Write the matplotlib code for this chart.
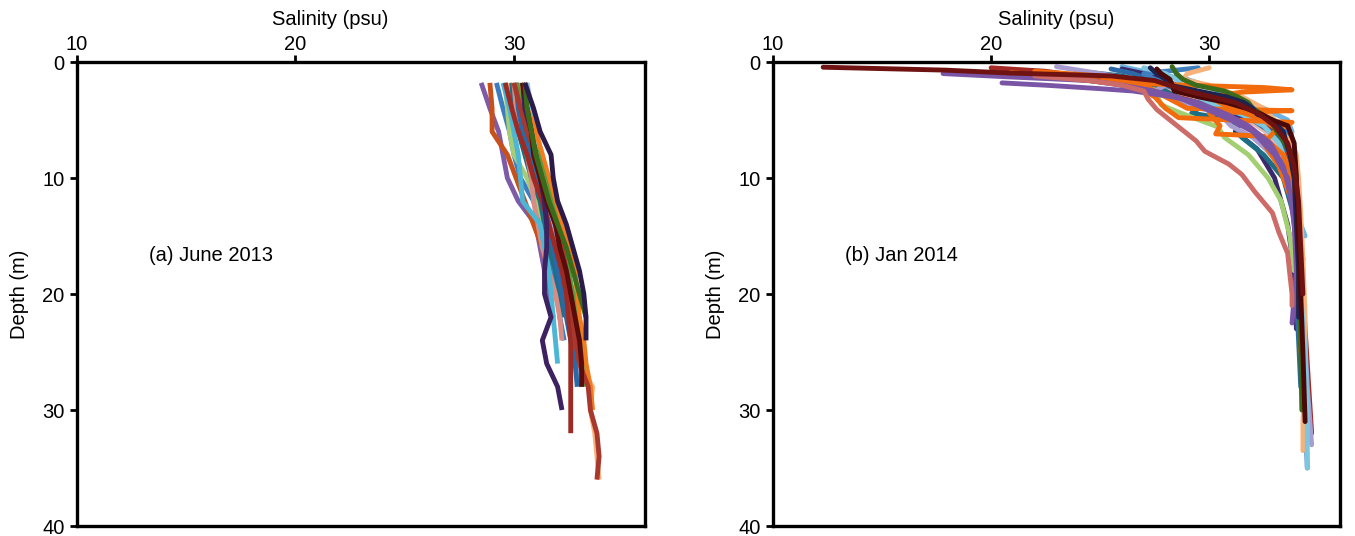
import matplotlib
matplotlib.use("Agg")
import matplotlib.pyplot as plt

plt.rcParams['font.family'] = ['Liberation Sans', 'DejaVu Sans']

# ---------------- June 2013 (panel a) ----------------
june_depth = [1.8, 4, 6, 8, 10, 12, 14, 16, 18, 20, 22, 24, 26, 28, 30, 32, 34, 36]
june_colors = ['#7d5ba6', '#c8501a', '#3b7dc0', '#a5cc76', '#f9b27d', '#1f6e80',
               '#8bb8e0', '#d98b84', '#4db6d5', '#a69bd0', '#f27b1d', '#2869a8',
               '#5a9a3a', '#9d2b23', '#a8382d', '#3d2160', '#5a0b0b', '#3a6b1b',
               '#2a1b4b']
june_sal = [
    [28.5, 28.9, 29.3, 29.5, 29.7, 30.2, 31.0, 31.2, 31.4, 31.6, 31.8],
    [28.9, 29.0, 29.0, 29.7, 30.1, 30.5, 30.9, 31.3, 31.6, 31.8],
    [29.2, 29.5, 29.8, 30.0, 30.3, 30.9, 31.2, 31.5, 31.7, 32.0, 32.1, 32.3],
    [29.6, 29.7, 29.8, 30.0, 30.6, 31.0, 31.4, 31.7, 32.0, 32.3, 32.6, 32.8, 32.9, 33.1],
    [29.8, 30.2, 30.5, 31.0, 31.3, 31.6, 31.9, 32.1, 32.3, 32.5, 32.6, 32.8, 33.0, 33.6, 33.5, 33.7, 33.8, 33.9],
    [29.9, 30.0, 30.2, 30.5, 30.8, 31.2, 31.4, 31.6, 31.9, 32.1, 32.3],
    [30.6, 30.8, 31.0, 31.3, 31.5, 31.7, 31.9, 32.1, 32.3, 32.4, 32.6, 32.7],
    [30.0, 30.1, 30.3, 30.6, 30.8, 30.9, 31.1, 31.3, 31.6, 31.9, 32.1, 32.2],
    [29.5, 29.8, 30.0, 30.2, 30.3, 30.4, 31.2, 31.4, 31.6, 31.7, 31.8, 31.9, 32.0],
    [30.2, 30.3, 30.5, 30.8, 31.1, 31.4, 31.7, 32.0, 32.3, 32.5, 32.7, 32.9, 33.0, 33.1],
    [30.3, 30.6, 31.0, 31.3, 31.6, 31.9, 32.2, 32.5, 32.8, 32.9, 33.0, 33.2, 33.3, 33.5, 33.6],
    [30.1, 30.2, 30.4, 30.8, 31.0, 31.3, 31.6, 31.8, 32.0, 32.2, 32.4, 32.6, 32.8, 32.9],
    [30.1, 30.4, 30.7, 31.1, 31.4, 31.7, 32.0, 32.3, 32.5, 32.7, 32.8, 33.0, 33.1, 33.2],
    [29.6, 29.9, 30.2, 30.6, 30.9, 31.3, 31.6, 31.9, 32.2, 32.4, 32.5, 32.6, 32.6, 32.6, 32.6, 32.6],
    [30.0, 30.3, 30.6, 31.0, 31.3, 31.6, 31.9, 32.2, 32.4, 32.6, 32.7, 32.8, 33.0, 33.4, 33.5, 33.8, 33.9, 33.8],
    [30.4, 30.5, 30.8, 31.0, 31.2, 31.4, 31.5, 31.5, 31.4, 31.4, 31.7, 31.3, 31.5, 32.0, 32.2],
    [30.4, 30.6, 30.8, 30.9, 31.2, 31.5, 31.9, 32.1, 32.4, 32.6, 32.8, 33.0, 33.1, 33.1],
    [30.5, 30.6, 30.8, 31.0, 31.3, 31.6, 32.0, 32.4, 32.7, 33.0, 33.3],
    [30.5, 30.9, 31.2, 31.7, 31.8, 32.0, 32.4, 32.7, 33.0, 33.2, 33.3, 33.3],
]

# ---------------- Jan 2014 (panel b) ----------------
jan_colors = ['#e8b4ae', '#a32a25', '#6fb4e0', '#3b2a6b', '#2b6aa6', '#1d6e85',
              '#a89cd0', '#3f7fc0', '#f7b27a', '#7cc6de', '#a3cf72', '#f26b0c',
              '#f26b0c', '#f26b0c', '#7a55a5', '#7a55a5', '#cd6b68', '#3a6b1d',
              '#1f2350', '#4b0808', '#6f1212']
jan_depth = [
    [0.9, 1.0, 1.3, 2.0, 3.0, 4.0, 5.0, 6.0, 7.5, 9, 12, 16, 20],
    [0.5, 0.8, 1.2, 2.0, 3.0, 4.0, 5.0, 6.0, 8, 10, 14, 20, 26, 32],
    [0.4, 1.0, 1.5, 2.0, 3.0, 4.0, 5.0, 6.0, 7.0, 8, 10, 13, 15],
    [0.6, 1.2, 2.0, 3.0, 4.0, 5.0, 6.0, 7.5, 10, 14, 18, 23],
    [0.6, 1.0, 2.0, 3.0, 4.0, 5.0, 6.0, 7.0, 9, 11, 14, 17, 20, 24, 28],
    [0.8, 1.2, 2.0, 3.0, 4.0, 4.4, 5.0, 6.5, 8, 10, 12, 14, 16],
    [0.4, 1.0, 1.5, 2.0, 2.5, 3.5, 4.5, 5.5, 6.5, 7.5, 9, 12, 16, 21, 28, 33],
    [0.5, 1.0, 1.5, 2.0, 3.0, 4.0, 5.0, 6.0, 8, 10, 12, 15, 20, 25, 30, 35],
    [0.5, 1.0, 1.5, 2.0, 3.0, 4.0, 5.0, 6, 7, 8, 10, 13, 17, 22, 27, 31, 33.5],
    [0.5, 1.0, 1.5, 2.5, 3.5, 4.5, 5.5, 7, 9, 12, 16, 20, 25, 30, 35],
    [1.4, 1.8, 2.4, 3.7, 4.4, 5.6, 6.5, 8, 10, 12, 15, 18],
    [0.8, 1.2, 2.0, 3.0, 4.0, 4.2, 4.4, 5.5, 6.2, 6.4, 7, 8, 10, 13, 17, 24],
    [1.0, 1.5, 2.0, 3.0, 4.0, 4.8, 5.0, 5.2, 6.0, 7, 9, 12, 16, 22, 28],
    [0.9, 1.2, 1.5, 1.8, 2.0, 2.2, 2.4, 2.6, 3, 4, 5, 6, 8, 10, 15, 20, 25],
    [1.8, 2.0, 2.3, 2.5, 3.0, 3.5, 4.5, 5.5, 7, 9, 12, 16, 20],
    [1.0, 1.3, 1.6, 2.0, 2.5, 3, 4, 5, 6, 8, 10, 14, 18, 22.5],
    [1.2, 1.6, 2.0, 2.5, 3.2, 4.1, 5.3, 6.8, 7.7, 8.8, 9.7, 11.2, 13, 14.7, 16.5, 18.3, 20, 21],
    [0.4, 1.0, 1.5, 2.0, 2.5, 3.0, 3.5, 4.0, 5.0, 6.0, 6.5, 7.5, 8.0, 10, 15, 20, 25, 30],
    [0.5, 1.0, 1.5, 2.0, 2.5, 3.0, 3.5, 4.0, 4.5, 5.0, 6, 8, 10, 14, 18, 22],
    [0.6, 1.0, 1.5, 2.0, 2.5, 3.0, 3.5, 4.0, 4.5, 5.0, 5.5, 7, 10, 15, 20, 25, 31],
    [0.45, 0.7, 0.95, 1.2, 1.6, 2.5, 3.5, 4.5, 5.5, 7, 9, 12, 16, 20],
]
jan_sal = [
    [19.0, 21.0, 25.0, 27.5, 28.8, 30.2, 31.8, 32.6, 33.2, 33.6, 33.9, 34.1, 34.2],
    [20.0, 22.5, 24.0, 26.0, 28.5, 30.5, 32.0, 33.0, 33.6, 33.9, 34.1, 34.3, 34.5, 34.7],
    [26.0, 27.5, 29.0, 29.8, 31.0, 32.5, 33.6, 33.8, 33.7, 33.9, 34.0, 34.0, 34.4],
    [26.0, 27.5, 28.5, 29.5, 30.8, 31.5, 31.2, 32.2, 33.0, 33.6, 33.9, 34.0],
    [25.5, 26.5, 28.0, 29.5, 30.8, 32.0, 32.8, 33.3, 33.5, 33.9, 34.1, 34.3, 34.0, 34.1, 34.2],
    [24.0, 26.0, 27.5, 28.5, 29.5, 29.2, 31.0, 31.5, 32.5, 33.4, 33.7, 34.0, 34.2],
    [23.0, 25.0, 26.5, 28.0, 27.5, 28.8, 30.5, 31.0, 32.0, 32.6, 33.3, 33.8, 34.1, 34.3, 34.5, 34.7],
    [29.5, 27.0, 27.5, 28.5, 30.0, 31.0, 32.8, 33.6, 33.9, 33.9, 34.0, 34.1, 34.2, 34.3, 34.4, 34.5],
    [30.0, 29.0, 28.8, 30.0, 31.5, 32.5, 33.0, 33.3, 33.8, 34.0, 34.1, 34.2, 34.3, 34.4, 34.4, 34.3, 34.3],
    [27.0, 28.0, 28.5, 29.0, 30.0, 31.5, 32.5, 33.2, 33.6, 33.9, 34.1, 34.2, 34.4, 34.5, 34.5],
    [23.2, 25.5, 27.5, 27.8, 28.7, 30.4, 30.7, 31.8, 32.7, 33.3, 33.7, 33.9],
    [22.0, 25.0, 27.0, 28.0, 29.0, 33.8, 30.0, 30.5, 30.3, 32.5, 32.8, 33.4, 33.8, 34.0, 34.1, 34.2],
    [21.0, 24.0, 26.5, 27.5, 28.0, 28.6, 31.0, 33.8, 33.0, 32.5, 33.2, 33.8, 34.0, 34.2, 34.3],
    [20.9, 22.5, 24.0, 26.0, 29.0, 32.5, 33.8, 31.5, 30.0, 31.0, 32.5, 33.3, 33.7, 33.9, 34.0, 34.1, 34.2],
    [20.5, 22.5, 25.0, 26.5, 28.3, 29.5, 30.8, 31.8, 32.8, 33.4, 33.8, 34.0, 34.1],
    [17.8, 21.0, 24.5, 26.0, 27.5, 28.5, 29.8, 31.0, 32.0, 33.0, 33.6, 33.9, 34.0, 33.8],
    [22.0, 24.5, 26.0, 27.0, 27.2, 27.6, 28.4, 29.4, 29.8, 30.9, 31.5, 32.1, 32.9, 33.2, 33.6, 33.7, 33.8, 33.8],
    [28.3, 28.5, 28.8, 29.4, 30.7, 31.3, 31.8, 32.0, 32.8, 33.1, 33.3, 33.6, 33.9, 34.0, 34.1, 34.1, 34.2, 34.25],
    [27.3, 27.6, 28.0, 28.2, 29.5, 30.8, 31.6, 32.0, 32.2, 32.9, 33.4, 33.7, 33.9, 34.0, 34.1, 34.1],
    [27.6, 27.8, 28.2, 28.3, 28.4, 29.5, 30.8, 31.7, 32.4, 32.9, 33.6, 33.9, 34.0, 34.1, 34.2, 34.3, 34.4],
    [12.3, 17.9, 20.8, 25.5, 27.5, 29.0, 31.2, 32.3, 33.0, 33.6, 33.9, 34.1, 34.2, 34.3],
]

x_ticks = [10, 20, 30]
y_ticks = [0, 10, 20, 30, 40]
panel_labels = ['(a) June 2013', '(b) Jan 2014']

fig = plt.figure(figsize=(13.55, 5.36), dpi=100)
ax1 = fig.add_axes([77 / 1355, 1 - 526 / 536, 568 / 1355, 464 / 536])
ax2 = fig.add_axes([773 / 1355, 1 - 526 / 536, 567 / 1355, 464 / 536])

lw = 3.5
for sal, col in zip(june_sal, june_colors):
    ax1.plot(sal, june_depth[:len(sal)], color=col, lw=lw,
             solid_capstyle='butt', solid_joinstyle='round')
for dep, sal, col in zip(jan_depth, jan_sal, jan_colors):
    ax2.plot(sal, dep, color=col, lw=lw,
             solid_capstyle='round', solid_joinstyle='round')

fs = 14.5
label_x = [0.445, 0.499]
for ax, lab, lx in zip([ax1, ax2], panel_labels, label_x):
    ax.set_xlim(10, 36)
    ax.set_ylim(40, 0)
    ax.set_xticks(x_ticks)
    ax.set_yticks(y_ticks)
    ax.xaxis.tick_top()
    ax.xaxis.set_label_position('top')
    ax.set_xlabel('Salinity (psu)', fontsize=fs)
    ax.xaxis.set_label_coords(lx, 1.08)
    ax.set_ylabel('Depth (m)', fontsize=fs)
    ax.yaxis.set_label_coords(-0.085, 0.5)
    ax.tick_params(axis='both', direction='out', length=5, width=2,
                   labelsize=fs, color='black')
    ax.tick_params(axis='x', pad=1)
    ax.tick_params(axis='y', pad=4)
    for sp in ax.spines.values():
        sp.set_linewidth(2.4)
        sp.set_color('black')
    ax.text(13.3, 16.7, lab, fontsize=fs, ha='left', va='center')

fig.savefig('out.png', dpi=100)
